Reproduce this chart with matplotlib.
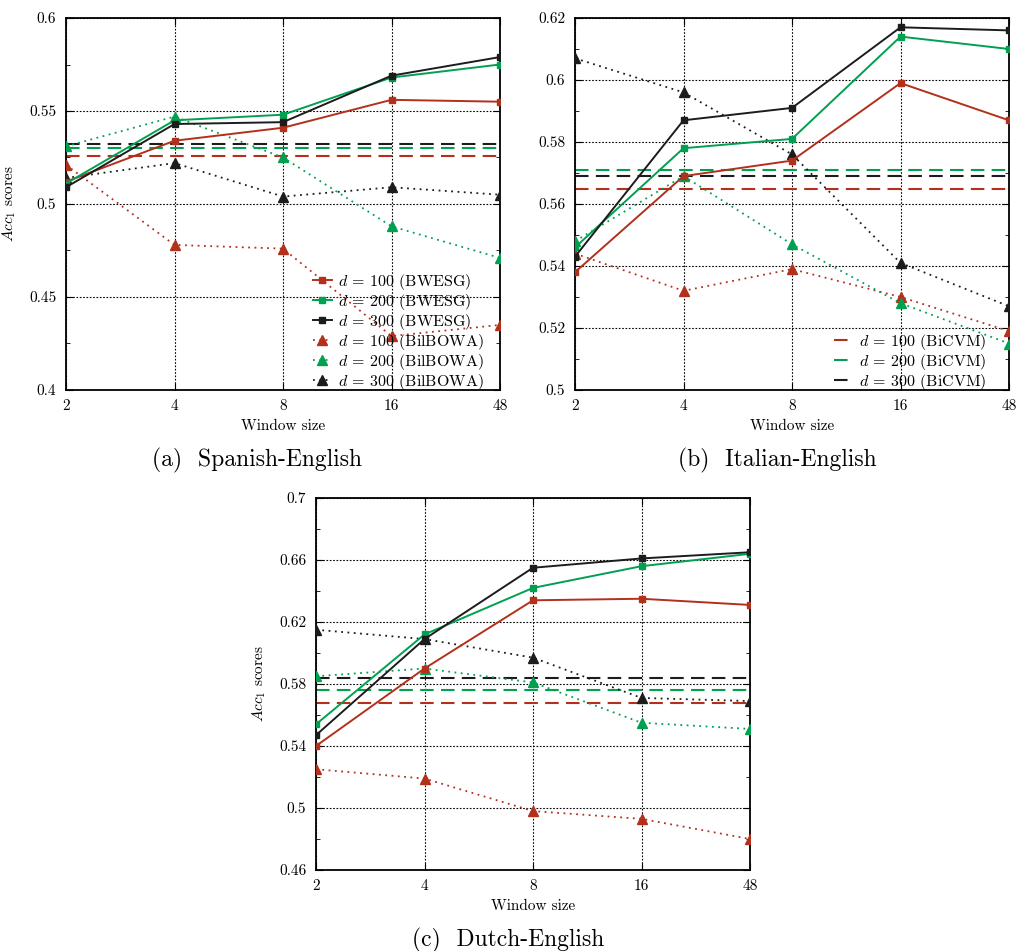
import numpy as np
import matplotlib
matplotlib.use('Agg')
from matplotlib import pyplot as plt
from matplotlib.ticker import MultipleLocator

plt.rcParams['font.family'] = ['cmr10', 'DejaVu Serif']
plt.rcParams['mathtext.fontset'] = 'cm'
plt.rcParams['axes.formatter.use_mathtext'] = True

windows = ['2', '4', '8', '16', '48']

# Spanish-English
es_bwesg_100 = [0.512, 0.534, 0.541, 0.556, 0.555]
es_bwesg_200 = [0.511, 0.545, 0.548, 0.568, 0.575]
es_bwesg_300 = [0.509, 0.543, 0.544, 0.569, 0.579]
es_bil_100 = [0.521, 0.478, 0.476, 0.429, 0.435]
es_bil_200 = [0.531, 0.547, 0.525, 0.488, 0.471]
es_bil_300 = [0.514, 0.522, 0.504, 0.509, 0.505]
es_bicvm = [0.526, 0.530, 0.532]

# Italian-English
it_bwesg_100 = [0.538, 0.569, 0.574, 0.599, 0.587]
it_bwesg_200 = [0.546, 0.578, 0.581, 0.614, 0.610]
it_bwesg_300 = [0.543, 0.587, 0.591, 0.617, 0.616]
it_bil_100 = [0.544, 0.532, 0.539, 0.530, 0.519]
it_bil_200 = [0.548, 0.569, 0.547, 0.528, 0.515]
it_bil_300 = [0.607, 0.596, 0.576, 0.541, 0.527]
it_bicvm = [0.565, 0.571, 0.569]

# Dutch-English
nl_bwesg_100 = [0.540, 0.590, 0.634, 0.635, 0.631]
nl_bwesg_200 = [0.554, 0.612, 0.642, 0.656, 0.664]
nl_bwesg_300 = [0.547, 0.609, 0.655, 0.661, 0.665]
nl_bil_100 = [0.525, 0.519, 0.498, 0.493, 0.480]
nl_bil_200 = [0.585, 0.590, 0.581, 0.555, 0.551]
nl_bil_300 = [0.615, 0.609, 0.597, 0.571, 0.569]
nl_bicvm = [0.568, 0.576, 0.584]

dims = ['100', '200', '300']
es_yticks = [0.4, 0.45, 0.5, 0.55, 0.6]
es_ylabels = ['0.4', '0.45', '0.5', '0.55', '0.6']
it_yticks = [0.5, 0.52, 0.54, 0.56, 0.58, 0.6, 0.62]
it_ylabels = ['0.5', '0.52', '0.54', '0.56', '0.58', '0.6', '0.62']
nl_yticks = [0.46, 0.5, 0.54, 0.58, 0.62, 0.66, 0.7]
nl_ylabels = ['0.46', '0.5', '0.54', '0.58', '0.62', '0.66', '0.7']

colors = ['#b2301c', '#00a050', '#1c1c1c']


def draw(ax, bwesg, bil, bicvm, yticks, ylabels, minor, ylabel=True):
    x = np.arange(len(windows))
    handles_a, handles_b = [], []
    for v, c in zip(bicvm, colors):
        h = ax.axhline(v, color=c, lw=1.5, ls=(0, (6.5, 3.5)), zorder=2)
        handles_b.append(h)
    for vals, c in zip(bil, colors):
        h, = ax.plot(x, vals, color=c, lw=1.3, ls=(0, (1, 2.5)), marker='^',
                     ms=7, zorder=3)
        handles_a.append(h)
    sq = []
    for vals, c in zip(bwesg, colors):
        h, = ax.plot(x, vals, color=c, lw=1.4, marker='s', ms=4.8, zorder=4)
        sq.append(h)
    ax.set_xlim(x[0], x[-1])
    ax.set_ylim(yticks[0], yticks[-1])
    ax.set_xticks(x)
    ax.set_xticklabels(windows)
    ax.set_yticks(yticks)
    ax.set_yticklabels(ylabels)
    ax.yaxis.set_minor_locator(MultipleLocator(minor))
    ax.grid(True, color='black', ls=(0, (1.5, 1.5)), lw=0.8)
    ax.tick_params(which='both', direction='in', right=True, top=True,
                   labelsize=11, pad=7)
    ax.tick_params(which='major', length=5)
    ax.tick_params(which='minor', length=3)
    for s in ax.spines.values():
        s.set_linewidth(1.3)
    ax.set_xlabel('Window size', fontsize=11, labelpad=4)
    if ylabel:
        ax.set_ylabel(r'$Acc_1$ scores', fontsize=11, labelpad=8)
    return sq, handles_a, handles_b


fig = plt.figure(figsize=(10.16, 9.51), dpi=100)
W, H = 1016.0, 951.0
ax_a = fig.add_axes([66 / W, 1 - 390 / H, 434 / W, 372 / H])
ax_b = fig.add_axes([575 / W, 1 - 390 / H, 434 / W, 372 / H])
ax_c = fig.add_axes([316 / W, 1 - 870 / H, 434 / W, 372 / H])

sq, tri, dash = draw(ax_a, [es_bwesg_100, es_bwesg_200, es_bwesg_300],
                     [es_bil_100, es_bil_200, es_bil_300], es_bicvm,
                     es_yticks, es_ylabels, 0.025)
labels = [r'$d$ = %s (BWESG)' % d for d in dims] + \
         [r'$d$ = %s (BilBOWA)' % d for d in dims]
ax_a.legend(sq + tri, labels, loc='lower right', bbox_to_anchor=(0.985, -0.03),
            frameon=False, fontsize=11.5, handlelength=1.2, handletextpad=0.4,
            labelspacing=0.0, borderaxespad=0.2)

sq, tri, dash = draw(ax_b, [it_bwesg_100, it_bwesg_200, it_bwesg_300],
                     [it_bil_100, it_bil_200, it_bil_300], it_bicvm,
                     it_yticks, it_ylabels, 0.01, ylabel=False)
ax_b.legend(dash, [r'$d$ = %s (BiCVM)' % d for d in dims], loc='lower right',
            bbox_to_anchor=(0.97, -0.03), frameon=False, fontsize=11.5,
            handlelength=1.2, handletextpad=0.4, labelspacing=0.0,
            borderaxespad=0.2)

draw(ax_c, [nl_bwesg_100, nl_bwesg_200, nl_bwesg_300],
     [nl_bil_100, nl_bil_200, nl_bil_300], nl_bicvm,
     nl_yticks, nl_ylabels, 0.02)

fig.text(257 / W, 1 - 460 / H, '(a)  Spanish-English', fontsize=17,
         ha='center', va='center')
fig.text(777 / W, 1 - 460 / H, '(b)  Italian-English', fontsize=17,
         ha='center', va='center')
fig.text(508 / W, 1 - 940 / H, '(c)  Dutch-English', fontsize=17,
         ha='center', va='center')

plt.savefig('out.png', dpi=100)
